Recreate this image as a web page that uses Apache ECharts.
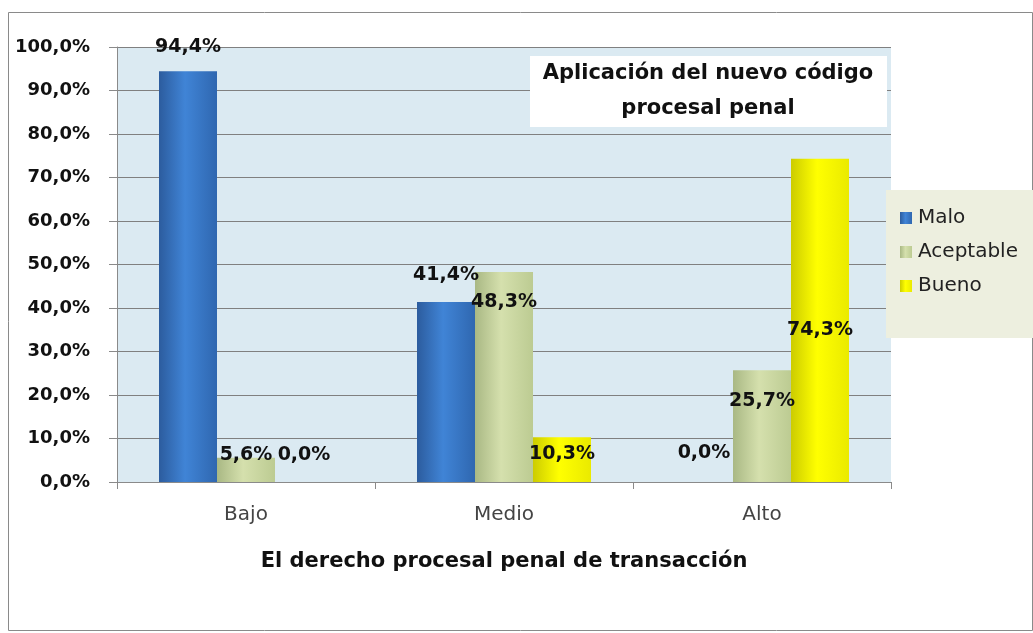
<!DOCTYPE html>
<html>
<head>
<meta charset="utf-8">
<script src="https://cdn.jsdelivr.net/npm/echarts@6/dist/echarts.min.js"></script>
<style>
  html, body { margin: 0; padding: 0; background: #fff; }
  #chart { width: 1033px; height: 633px; }
</style>
</head>
<body>
<div id="chart"></div>
<script>
  // datos
  var categorias = ['Bajo', 'Medio', 'Alto'];
  var malo = [94.4, 41.4, 0.0];
  var aceptable = [5.6, 48.3, 25.7];
  var bueno = [0.0, 10.3, 74.3];
  var titulo = 'Aplicación del nuevo código\nprocesal penal';
  var ejeX = 'El derecho procesal penal de transacción';

  // desplazamiento vertical de etiquetas (como en el original de Excel)
  var ajusteMalo = [-10, -12, -14];
  var ajusteAceptable = [12, 45, 45];
  var ajusteBueno = [-12, 31, 186];

  function pct(v) {
    return v.toFixed(1).replace('.', ',') + '%';
  }

  function grad(a, b, c) {
    return new echarts.graphic.LinearGradient(0, 0, 1, 0, [
      { offset: 0, color: a },
      { offset: 0.45, color: b },
      { offset: 1, color: c }
    ]);
  }

  function items(vals, ajuste) {
    return vals.map(function (v, i) {
      return { value: v, label: { offset: [0, ajuste[i]] } };
    });
  }

  var etiqueta = {
    show: true,
    position: 'top',
    distance: 5,
    fontFamily: 'DejaVu Sans',
    fontWeight: 'bold',
    fontSize: 19,
    color: '#111',
    formatter: function (p) { return pct(p.value); }
  };

  var chart = echarts.init(document.getElementById('chart'));
  chart.setOption({
    animation: false,
    grid: { left: 117, right: 142, top: 47, bottom: 151, show: true, backgroundColor: '#dbeaf2', borderWidth: 0 },
    graphic: [
      { type: 'rect', z: -10, shape: { x: 8.5, y: 12.5, width: 1024, height: 618 }, style: { fill: '#fff', stroke: '#8a8a8a', lineWidth: 1 } },
      { type: 'rect', z: 1, shape: { x: 886, y: 190, width: 147, height: 148 }, style: { fill: '#edefdf' } },
      { type: 'rect', z: 5, shape: { x: 530, y: 56, width: 357, height: 71 }, style: { fill: '#fff' } },
      { type: 'text', z: 6, style: { text: titulo, x: 708, y: 56, align: 'center', verticalAlign: 'top', fontFamily: 'DejaVu Sans', fontWeight: 'bold', fontSize: 21, lineHeight: 35, fill: '#111' } }
    ],
    legend: {
      orient: 'vertical',
      left: 895,
      top: 203,
      itemWidth: 12,
      itemHeight: 12,
      itemGap: 14,
      icon: 'rect',
      textStyle: { fontFamily: 'DejaVu Sans', fontSize: 20, color: '#222', padding: [0, 0, 0, 1] },
      data: ['Malo', 'Aceptable', 'Bueno']
    },
    xAxis: {
      type: 'category',
      data: categorias,
      name: ejeX,
      nameLocation: 'middle',
      nameGap: 69,
      nameTextStyle: { fontFamily: 'DejaVu Sans', fontWeight: 'bold', fontSize: 21, color: '#111' },
      axisLine: { lineStyle: { color: '#8a8a8a' } },
      axisTick: { show: true, length: 7, lineStyle: { color: '#8a8a8a' } },
      axisLabel: { margin: 23, fontFamily: 'DejaVu Sans', fontSize: 20, color: '#444' }
    },
    yAxis: {
      type: 'value',
      min: 0,
      max: 100,
      interval: 10,
      axisLine: { show: true, lineStyle: { color: '#8a8a8a' } },
      axisTick: { show: true, length: 8, lineStyle: { color: '#8a8a8a' } },
      splitLine: { lineStyle: { color: '#808080', width: 1 } },
      axisLabel: {
        margin: 27,
        fontFamily: 'DejaVu Sans',
        fontWeight: 'bold',
        fontSize: 18,
        color: '#111',
        formatter: function (v) { return pct(v); }
      }
    },
    series: [
      {
        name: 'Malo', type: 'bar', barWidth: 58, barGap: '0%',
        itemStyle: { color: grad('#2c5c9e', '#4084d6', '#2f67b0') },
        label: etiqueta,
        data: items(malo, ajusteMalo)
      },
      {
        name: 'Aceptable', type: 'bar', barWidth: 58, barGap: '0%',
        itemStyle: { color: grad('#a9b884', '#d5e0ad', '#bccb92') },
        label: etiqueta,
        data: items(aceptable, ajusteAceptable)
      },
      {
        name: 'Bueno', type: 'bar', barWidth: 58, barGap: '0%',
        itemStyle: { color: grad('#cccc00', '#ffff00', '#eaea00') },
        label: etiqueta,
        data: items(bueno, ajusteBueno)
      }
    ]
  });
</script>
</body>
</html>
